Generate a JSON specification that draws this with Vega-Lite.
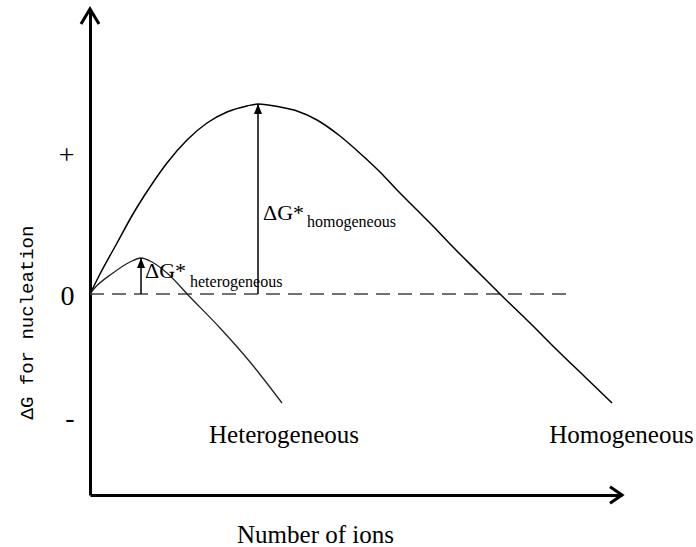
{
  "$schema": "https://vega.github.io/schema/vega-lite/v6.json",
  "width": 532,
  "height": 486,
  "autosize": {"type": "none"},
  "padding": {"left": 90, "top": 9, "right": 74, "bottom": 52},
  "background": "white",
  "config": {"view": {"stroke": null}, "axis": {"grid": false}},
  "datasets": {
    "homogeneous": [
      {"n": 0, "g": 0}, {"n": 1.88, "g": 0.2}, {"n": 5.08, "g": 0.51},
      {"n": 8.08, "g": 0.8}, {"n": 11.28, "g": 1.07}, {"n": 14.47, "g": 1.31}, {"n": 18.23, "g": 1.54},
      {"n": 21.99, "g": 1.71}, {"n": 25.75, "g": 1.82}, {"n": 29.51, "g": 1.88}, {"n": 31.58, "g": 1.9},
      {"n": 35.71, "g": 1.87}, {"n": 38.91, "g": 1.83}, {"n": 42.67, "g": 1.74}, {"n": 46.99, "g": 1.58},
      {"n": 51.32, "g": 1.38}, {"n": 54.51, "g": 1.22}, {"n": 57.71, "g": 1.04}, {"n": 61.47, "g": 0.84},
      {"n": 63.91, "g": 0.71}, {"n": 68.23, "g": 0.47}, {"n": 72.74, "g": 0.23}, {"n": 77.07, "g": 0},
      {"n": 82.71, "g": -0.29}, {"n": 87.78, "g": -0.56}, {"n": 93.05, "g": -0.83}, {"n": 98.12, "g": -1.09}
    ],
    "heterogeneous": [
      {"n": 0, "g": 0}, {"n": 0.56, "g": 0.04}, {"n": 4.32, "g": 0.21}, {"n": 7.52, "g": 0.32},
      {"n": 9.59, "g": 0.36}, {"n": 11.65, "g": 0.32}, {"n": 14.47, "g": 0.21}, {"n": 18.8, "g": -0.03},
      {"n": 24.44, "g": -0.34}, {"n": 30.08, "g": -0.68}, {"n": 36.09, "g": -1.09}
    ],
    "zeroLine": [{"n": 0, "g": 0}, {"n": 90.2, "g": 0}],
    "barriers": [
      {"n": 9.59, "g": 0, "g2": 0.36},
      {"n": 31.58, "g": 0, "g2": 1.9}
    ],
    "axisEnds": [
      {"n": 0, "g": 2.85, "dir": "up"},
      {"n": 100, "g": -2.01, "dir": "right"}
    ],
    "curveNames": [
      {"n": 36.47, "g": -1.49, "t": "Heterogeneous"},
      {"n": 99.9, "g": -1.49, "t": "Homogeneous"}
    ],
    "deltaLabels": [
      {"n": 32.52, "g": 0.74, "t": "ΔG*"},
      {"n": 10.34, "g": 0.16, "t": "ΔG*"}
    ],
    "subscripts": [
      {"n": 40.79, "g": 0.67, "t": "homogeneous"},
      {"n": 18.8, "g": 0.07, "t": "heterogeneous"}
    ]
  },
  "encoding": {
    "x": {
      "field": "n", "type": "quantitative",
      "scale": {"domain": [0, 100], "nice": false, "zero": false}
    },
    "y": {
      "field": "g", "type": "quantitative",
      "scale": {"domain": [-2.01, 2.85], "nice": false, "zero": false}
    }
  },
  "layer": [
    {
      "data": {"name": "zeroLine"},
      "mark": {"type": "line", "stroke": "#444", "strokeWidth": 1.7, "strokeDash": [14, 8]},
      "encoding": {
        "x": {
          "field": "n", "type": "quantitative",
          "scale": {"domain": [0, 100], "nice": false, "zero": false},
          "axis": {
            "title": "Number of ions", "labels": false, "ticks": false,
            "domainColor": "black", "domainWidth": 3,
            "titleFont": "Liberation Serif", "titleFontSize": 25, "titleFontWeight": "normal",
            "titleColor": "black", "titleX": 225, "titleY": 47, "titleAlign": "center",
            "titleBaseline": "alphabetic"
          }
        },
        "y": {
          "field": "g", "type": "quantitative",
          "scale": {"domain": [-2.01, 2.85], "nice": false, "zero": false},
          "axis": {
            "title": "ΔG for nucleation", "ticks": false,
            "values": [-1.24, -0.02, 1.39],
            "labelExpr": "datum.value > 0.5 ? '+' : (datum.value < -0.5 ? '-' : '0')",
            "labelFont": "Liberation Serif", "labelFontSize": 28, "labelColor": "black",
            "labelPadding": 16, "labelBaseline": "middle", "labelOverlap": false, "labelBound": false,
            "domainColor": "black", "domainWidth": 3,
            "titleFont": "Liberation Mono", "titleFontSize": 19, "titleFontWeight": "normal",
            "titleColor": "black", "titleX": -58, "titleY": 313, "titleAngle": 270,
            "titleAlign": "center", "titleBaseline": "alphabetic"
          }
        }
      }
    },
    {
      "data": {"name": "homogeneous"},
      "mark": {"type": "line", "stroke": "black", "strokeWidth": 1.5, "interpolate": "monotone"},
      "encoding": {}
    },
    {
      "data": {"name": "heterogeneous"},
      "mark": {"type": "line", "stroke": "#222", "strokeWidth": 1.3, "interpolate": "monotone"},
      "encoding": {}
    },
    {
      "data": {"name": "barriers"},
      "mark": {"type": "rule", "stroke": "black", "strokeWidth": 1.5},
      "encoding": {"y2": {"field": "g2"}}
    },
    {
      "data": {"name": "barriers"},
      "mark": {"type": "point", "filled": true, "color": "black", "opacity": 1, "size": 400,
               "shape": "M0,0 L-0.4,1 L0.4,1 Z"},
      "encoding": {"y": {"field": "g2", "type": "quantitative"}}
    },
    {
      "data": {"name": "axisEnds"},
      "mark": {"type": "point", "filled": false, "stroke": "black", "strokeWidth": 3, "opacity": 1, "size": 900},
      "encoding": {
        "shape": {
          "field": "dir", "type": "nominal", "legend": null,
          "scale": {"domain": ["up", "right"], "range": ["M-0.6,1 L0,0 L0.6,1", "M-0.8,-0.55 L0,0 L-0.8,0.55"]}
        }
      }
    },
    {
      "data": {"name": "curveNames"},
      "mark": {"type": "text", "font": "Liberation Serif", "fontSize": 25, "color": "black",
               "align": "center", "baseline": "alphabetic"},
      "encoding": {"text": {"field": "t"}}
    },
    {
      "data": {"name": "deltaLabels"},
      "mark": {"type": "text", "font": "Liberation Serif", "fontSize": 22, "color": "black",
               "align": "left", "baseline": "alphabetic"},
      "encoding": {"text": {"field": "t"}}
    },
    {
      "data": {"name": "subscripts"},
      "mark": {"type": "text", "font": "Liberation Serif", "fontSize": 16, "color": "black",
               "align": "left", "baseline": "alphabetic"},
      "encoding": {"text": {"field": "t"}}
    }
  ]
}
